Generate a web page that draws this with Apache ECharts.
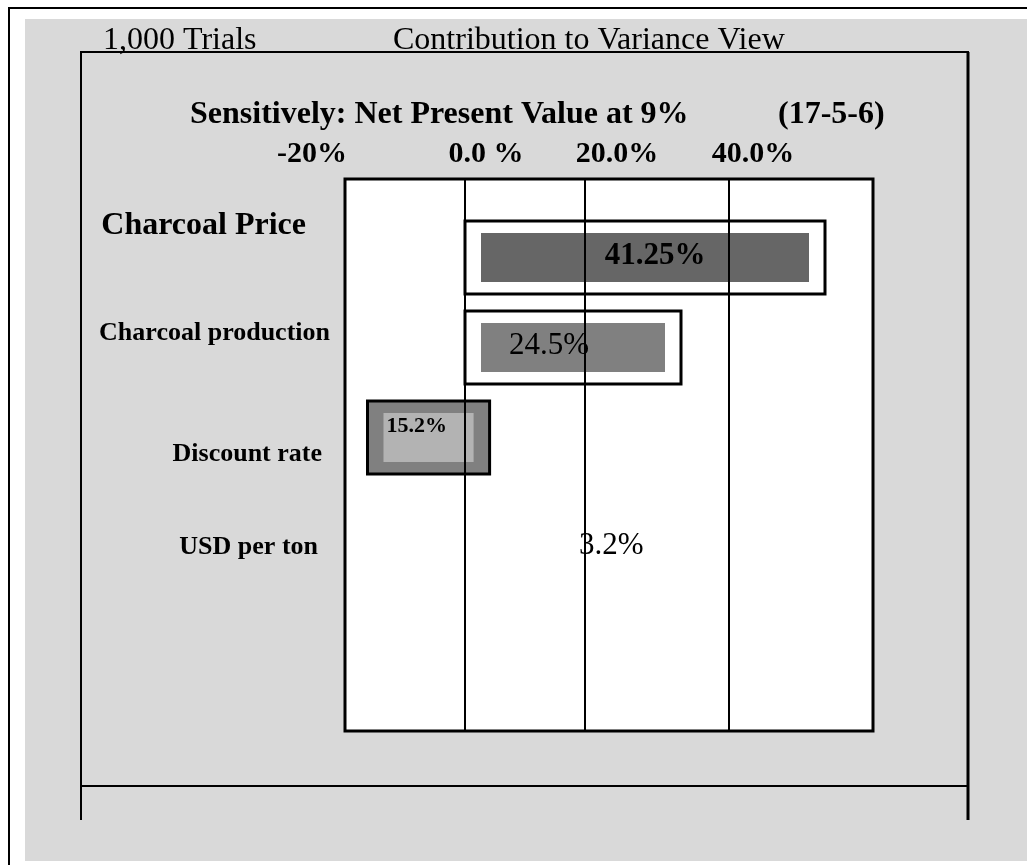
<!DOCTYPE html>
<html>
<head>
<meta charset="utf-8">
<title>Contribution to Variance View</title>
<script src="https://cdn.jsdelivr.net/npm/echarts@6/dist/echarts.min.js"></script>
<style>
  html, body { margin: 0; padding: 0; background: #fff; }
  #chart { width: 1027px; height: 865px; }
</style>
</head>
<body>
<div id="chart"></div>
<script>
// rows, top to bottom
var categories = ['Charcoal Price', 'Charcoal production', 'Discount rate', 'USD per ton'];
var contribution = ['41.25%', '24.5%', '15.2%', '3.2%'];
// bar extents as read against the 0 / 20 lines
var barFrom = [0, 0, -16.25, null];
var barTo = [60, 36, 4.1, null];
var tickLabels = ['-20%', '0.0 %', '20.0%', '40.0%'];
var refLines = [0, 20, 44];

var serif = "'Liberation Serif', 'Times New Roman', serif";

// per row looks (not data)
var barStyles = [
  { outer: '#ffffff', inner: '#666666' },
  { outer: '#ffffff', inner: '#808080' },
  { outer: '#808080', inner: '#b3b3b3' },
  null
];
var labelStyles = [
  { align: 'center', dx: 10, dy: -2, size: 31, bold: true },
  { align: 'left', dx: 44, dy: -2, size: 31, bold: false },
  { align: 'left', dx: 19, dy: -11, size: 22, bold: true },
  { align: 'left', at: 20, dx: -6, dy: 18, size: 31, bold: false }
];
var tickLabelX = [312, 486, 617, 753];

var myChart = echarts.init(document.getElementById('chart'));

var barData = [];
var looseData = [];
categories.forEach(function (c, i) {
  if (barFrom[i] != null) barData.push([i, barFrom[i], barTo[i]]);
  else looseData.push([i, labelStyles[i].at]);
});

function fontOf(s) {
  return (s.bold ? 'bold ' : '') + s.size + 'px ' + serif;
}

function renderBar(params, api) {
  var row = api.value(0);
  var a = api.coord([api.value(1), row]);
  var b = api.coord([api.value(2), row]);
  var h = api.size([0, 1])[1] * 0.81;
  var st = barStyles[row];
  var ls = labelStyles[row];
  var x0 = a[0], x1 = b[0], yc = a[1];
  var tx = ls.align === 'center' ? (x0 + x1) / 2 + ls.dx : x0 + ls.dx;
  return {
    type: 'group',
    children: [
      { type: 'rect', shape: { x: x0, y: yc - h / 2, width: x1 - x0, height: h },
        style: { fill: st.outer, stroke: '#000', lineWidth: 3 } },
      { type: 'rect', shape: { x: x0 + 16, y: yc - h / 2 + 12, width: x1 - x0 - 32, height: h - 24 },
        style: { fill: st.inner } },
      { type: 'text', x: tx, y: yc + ls.dy,
        style: { text: contribution[row], font: fontOf(ls), fill: '#000', align: ls.align, verticalAlign: 'middle' } }
    ]
  };
}

function renderLoose(params, api) {
  var row = api.value(0);
  var p = api.coord([api.value(1), row]);
  var ls = labelStyles[row];
  return {
    type: 'text', x: p[0] + ls.dx, y: p[1] + ls.dy,
    style: { text: contribution[row], font: fontOf(ls), fill: '#000', align: ls.align, verticalAlign: 'middle' }
  };
}

function txt(t, x, y, size, bold, align) {
  return {
    type: 'text', x: x, y: y, z: 10,
    style: { text: t, font: (bold ? 'bold ' : '') + size + 'px ' + serif, fill: '#000',
      align: align || 'left', verticalAlign: 'middle' }
  };
}
function line(x1, y1, x2, y2, w) {
  return { type: 'line', z: 5, shape: { x1: x1, y1: y1, x2: x2, y2: y2 },
    style: { stroke: '#000', lineWidth: w || 2 } };
}

var graphics = [
  { type: 'rect', z: -10, shape: { x: 25, y: 19, width: 1002, height: 842 }, style: { fill: '#d9d9d9' } },
  line(9, 8, 9, 865, 2),
  line(8, 8, 1027, 8, 2),
  line(80, 52, 969, 52, 2),
  line(81, 52, 81, 820, 2),
  line(968, 52, 968, 820, 3),
  line(80, 786, 969, 786, 2),
  txt('1,000 Trials', 103, 41, 32, false),
  txt('Contribution to Variance View', 393, 41, 32, false),
  txt('Sensitively: Net Present Value at 9%', 190, 115, 32, true),
  txt('(17-5-6)', 778, 115, 32, true)
];
tickLabels.forEach(function (t, i) {
  graphics.push(txt(t, tickLabelX[i], 154, 30, true, 'center'));
});

var rowRich = {
  r0: { fontFamily: serif, fontSize: 32, fontWeight: 'bold', color: '#000', padding: [0, 24, 64, 0] },
  r1: { fontFamily: serif, fontSize: 26, fontWeight: 'bold', color: '#000', padding: [0, 0, 29, 0] },
  r2: { fontFamily: serif, fontSize: 26, fontWeight: 'bold', color: '#000', padding: [33, 8, 0, 0] },
  r3: { fontFamily: serif, fontSize: 26, fontWeight: 'bold', color: '#000', padding: [39, 12, 0, 0] }
};

myChart.setOption({
  animation: false,
  backgroundColor: '#fff',
  graphic: graphics,
  grid: [
    { left: 345, right: 154, top: 179, bottom: 134, show: true, backgroundColor: '#fff',
      borderColor: '#000', borderWidth: 3, z: 0 },
    { left: 345, right: 154, top: 257.5, bottom: 337.5 }
  ],
  xAxis: [
    { gridIndex: 0, type: 'value', min: -20, max: 68, show: false },
    { gridIndex: 1, type: 'value', min: -20, max: 68, show: false }
  ],
  yAxis: [
    { gridIndex: 0, type: 'value', min: 0, max: 1, show: false },
    {
      gridIndex: 1, type: 'category', data: categories, inverse: true, boundaryGap: false,
      axisLine: { show: false }, axisTick: { show: false }, splitLine: { show: false },
      axisLabel: {
        interval: 0, margin: 15,
        formatter: function (v, i) { return '{r' + i + '|' + v + '}'; },
        rich: rowRich
      }
    }
  ],
  series: [
    {
      type: 'custom', name: 'loose', xAxisIndex: 1, yAxisIndex: 1, z: 1,
      renderItem: renderLoose, data: looseData, encode: { x: 1, y: 0 }
    },
    {
      type: 'line', xAxisIndex: 0, yAxisIndex: 0, z: 2, data: [],
      markLine: {
        silent: true, symbol: ['none', 'none'], label: { show: false },
        lineStyle: { color: '#000', width: 2, type: 'solid' },
        data: refLines.map(function (v) { return { xAxis: v }; })
      }
    },
    {
      type: 'custom', name: 'bars', xAxisIndex: 1, yAxisIndex: 1, z: 3,
      renderItem: renderBar, data: barData, encode: { x: [1, 2], y: 0 }
    }
  ]
});
</script>
</body>
</html>
